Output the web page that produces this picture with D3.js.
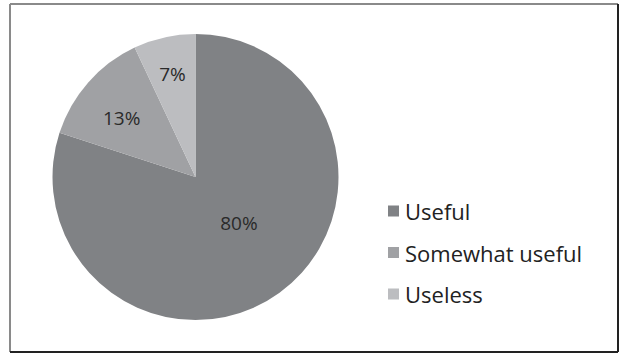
<!DOCTYPE html>
<html>
<head>
<meta charset="utf-8">
<script src="https://cdn.jsdelivr.net/npm/d3@7"></script>
<style>
  html, body { margin: 0; padding: 0; background: #fff; }
  svg { display: block; }
</style>
</head>
<body>
<svg id="chart" width="620" height="354"></svg>
<script>
// Survey answers and their shares (percent)
const categories = ["Useful", "Somewhat useful", "Useless"];
const values = [80, 13, 7];
const labels = ["80%", "13%", "7%"];
const colors = ["#808285", "#a0a1a4", "#bcbdc0"];

const svg = d3.select("#chart");
const W = 620, H = 354;

// Frame with a light top/left edge and a dark bottom/right edge
const frame = { x0: 10, y0: 4, x1: 618, y1: 352 };
svg.append("rect").attr("x", 0).attr("y", 0).attr("width", W).attr("height", H).attr("fill", "#fff");
svg.append("line").attr("x1", frame.x0).attr("y1", frame.y0).attr("x2", frame.x1).attr("y2", frame.y0)
  .attr("stroke", "#8a8a8a").attr("stroke-width", 2);
svg.append("line").attr("x1", frame.x0).attr("y1", frame.y0).attr("x2", frame.x0).attr("y2", frame.y1)
  .attr("stroke", "#8a8a8a").attr("stroke-width", 2);
svg.append("line").attr("x1", frame.x1).attr("y1", frame.y0).attr("x2", frame.x1).attr("y2", frame.y1)
  .attr("stroke", "#222").attr("stroke-width", 2);
svg.append("line").attr("x1", frame.x0).attr("y1", frame.y1).attr("x2", frame.x1).attr("y2", frame.y1)
  .attr("stroke", "#222").attr("stroke-width", 2);

// Pie
const cx = 195.5, cy = 177, r = 143;
const color = d3.scaleOrdinal().domain(categories).range(colors);
const pie = d3.pie().sort(null).value(d => d.value);
const data = categories.map((c, i) => ({ name: c, value: values[i], label: labels[i] }));
const arcs = pie(data);
const arc = d3.arc().innerRadius(0).outerRadius(r);

const g = svg.append("g").attr("transform", `translate(${cx},${cy})`);
g.selectAll("path.slice").data(arcs).enter().append("path")
  .attr("class", "slice")
  .attr("d", arc)
  .attr("fill", d => color(d.data.name));

// Label placement: fraction of radius and angular nudge (radians) per slice
const labelRadius = [0.44, 0.66, 0.74];
const labelNudge = [-0.134, -0.05, 0];
g.selectAll("text.pct").data(arcs).enter().append("text")
  .attr("class", "pct")
  .attr("x", (d, i) => {
    const a = (d.startAngle + d.endAngle) / 2 + labelNudge[i];
    return Math.sin(a) * r * labelRadius[i];
  })
  .attr("y", (d, i) => {
    const a = (d.startAngle + d.endAngle) / 2 + labelNudge[i];
    return -Math.cos(a) * r * labelRadius[i];
  })
  .attr("text-anchor", "middle")
  .attr("dominant-baseline", "central")
  .attr("font-family", "'Open Sans', sans-serif")
  .attr("font-size", 19)
  .attr("fill", "#2a2a2a")
  .text(d => d.data.label);

// Legend
const legendY = d3.scalePoint().domain(categories).range([211, 294]);
const leg = svg.append("g");
const items = leg.selectAll("g").data(categories).enter().append("g")
  .attr("transform", d => `translate(388,${legendY(d)})`);
items.append("rect")
  .attr("x", 0).attr("y", -5.5).attr("width", 11).attr("height", 11)
  .attr("fill", d => color(d));
items.append("text")
  .attr("x", 17).attr("y", 0)
  .attr("dominant-baseline", "central")
  .attr("font-family", "'Open Sans', sans-serif")
  .attr("font-size", 22)
  .attr("fill", "#222")
  .text(d => d);
</script>
</body>
</html>
